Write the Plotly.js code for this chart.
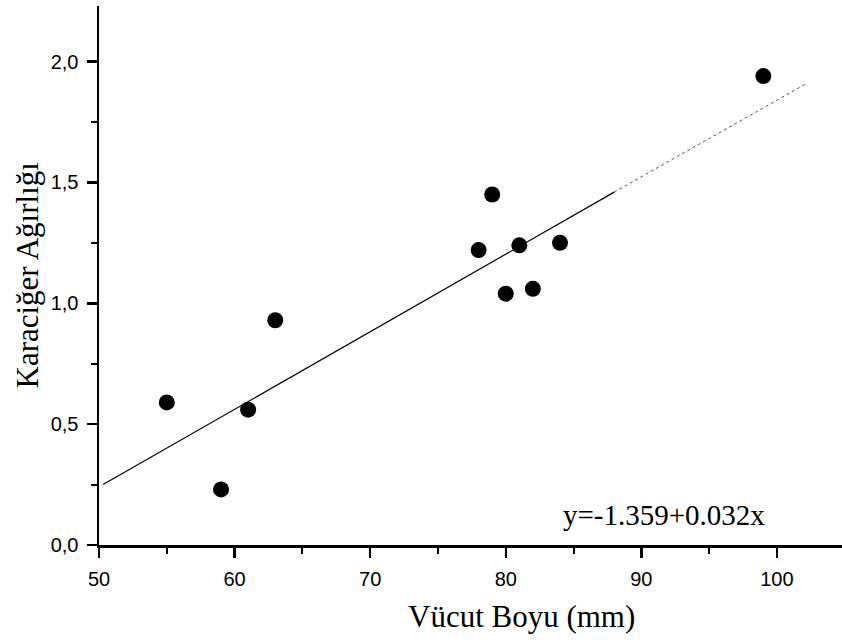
<!DOCTYPE html>
<html>
<head>
<meta charset="utf-8">
<script src="https://cdn.plot.ly/plotly-3.0.1.min.js"></script>
<style>
  html, body { margin: 0; padding: 0; background: #fff; }
  #chart { width: 842px; height: 644px; }
</style>
</head>
<body>
<div id="chart"></div>
<script>
// Data
const bodyLength = [55, 59, 61, 63, 78, 79, 80, 81, 82, 84, 99];          // Vücut Boyu (mm)
const liverWeight = [0.59, 0.23, 0.56, 0.93, 1.22, 1.45, 1.04, 1.24, 1.06, 1.25, 1.94]; // Karaciğer Ağırlığı

// Regression line end points as drawn (solid part, then faded tail)
const fitSolidX = [50.3, 88];
const fitSolidY = [0.25, 1.46];
const fitTailX = [88, 102.2];
const fitTailY = [1.46, 1.91];

const xTickVals = [50, 60, 70, 80, 90, 100];
const xTickText = ["50", "60", "70", "80", "90", "100"];
const yTickVals = [0, 0.5, 1.0, 1.5, 2.0];
const yTickText = ["0,0", "0,5", "1,0", "1,5", "2,0"];

const xTitle = "Vücut Boyu (mm)";
const yTitle = "Karaciğer Ağırlığı";
const equationText = "y=-1.359+0.032x";

const serif = "Liberation Serif, Times New Roman, serif";
const sans = "Liberation Sans, Arial, sans-serif";

const traces = [
  {
    x: fitSolidX, y: fitSolidY, type: "scatter", mode: "lines",
    line: { color: "#000", width: 1.2 }, hoverinfo: "skip", showlegend: false
  },
  {
    x: fitTailX, y: fitTailY, type: "scatter", mode: "lines",
    line: { color: "#555", width: 1, dash: "dot" }, hoverinfo: "skip", showlegend: false
  },
  {
    x: bodyLength, y: liverWeight, type: "scatter", mode: "markers",
    marker: { color: "#000", size: 16, symbol: "circle" }, showlegend: false
  }
];

const layout = {
  width: 842, height: 644,
  margin: { l: 99, r: 0, t: 6, b: 99 },
  paper_bgcolor: "#fff", plot_bgcolor: "#fff",
  showlegend: false,
  xaxis: {
    range: [50, 104.8],
    tickvals: xTickVals, ticktext: xTickText,
    showline: true, linecolor: "#000", linewidth: 2.5,
    ticks: "outside", ticklen: 10, tickwidth: 2.5, tickcolor: "#000",
    ticklabelstandoff: 4,
    minor: { dtick: 5, tick0: 50, ticks: "outside", ticklen: 6, tickwidth: 2, tickcolor: "#000", showgrid: false },
    showgrid: false, zeroline: false,
    tickfont: { family: sans, size: 20, color: "#000" }
  },
  yaxis: {
    range: [0, 2.23],
    tickvals: yTickVals, ticktext: yTickText,
    showline: true, linecolor: "#000", linewidth: 2.5,
    ticks: "outside", ticklen: 10, tickwidth: 2.5, tickcolor: "#000",
    ticklabelstandoff: 4,
    minor: { dtick: 0.25, tick0: 0, ticks: "outside", ticklen: 6, tickwidth: 2, tickcolor: "#000", showgrid: false },
    showgrid: false, zeroline: false,
    tickfont: { family: sans, size: 20, color: "#000" }
  },
  annotations: [
    {
      x: 91.7, y: 0.125, xref: "x", yref: "y",
      text: equationText, showarrow: false,
      font: { family: serif, size: 29, color: "#000" }
    },
    {
      x: 0.569, y: 616, xref: "paper", yref: "paper",
      text: xTitle, showarrow: false, yanchor: "middle",
      font: { family: serif, size: 31, color: "#000" }
    },
    {
      x: 27, y: 0.5, xref: "paper", yref: "paper",
      text: yTitle, showarrow: false, textangle: -90, xanchor: "center",
      font: { family: serif, size: 31, color: "#000" }
    }
  ]
};

// convert pixel positions of the title annotations to paper coordinates
const plotW = layout.width - layout.margin.l - layout.margin.r;
const plotH = layout.height - layout.margin.t - layout.margin.b;
layout.annotations[1].y = (layout.height - layout.margin.b - 616) / plotH;
layout.annotations[2].x = (27 - layout.margin.l) / plotW;

Plotly.newPlot("chart", traces, layout, { displayModeBar: false, staticPlot: true });
</script>
</body>
</html>
